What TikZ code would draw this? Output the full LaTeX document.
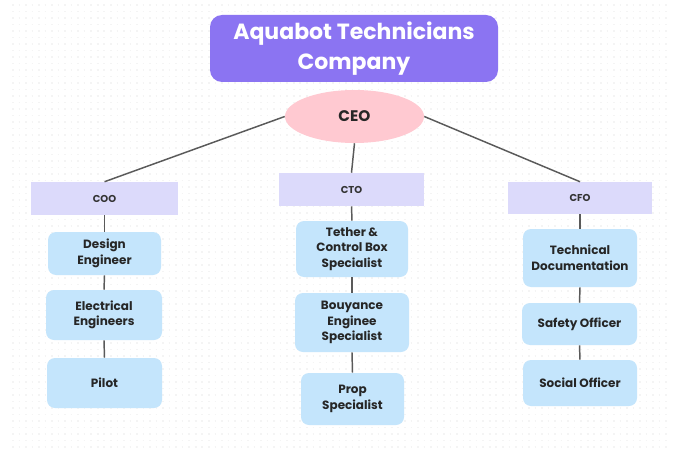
\documentclass[tikz,border=0pt]{standalone}
\usepackage{fontspec}
\setmainfont{Poppins}
\usetikzlibrary{shapes.geometric}
\definecolor{titlebg}{HTML}{8B74F2}
\definecolor{ceobg}{HTML}{FFC9D1}
\definecolor{headbg}{HTML}{DCDAFB}
\definecolor{rolebg}{HTML}{C4E5FC}
\definecolor{linkgray}{HTML}{5A5A5A}
\definecolor{dotgray}{HTML}{F4F4F4}
\begin{document}
\begin{tikzpicture}[x=0.75pt,y=-0.75pt,
  title/.style={draw=none,fill=titlebg,rounded corners=9pt,text=white,
    font=\fontsize{16.5}{22.5}\selectfont\bfseries,align=center,inner sep=0pt},
  ceo/.style={ellipse,fill=ceobg,font=\fontsize{11.5}{14}\selectfont\bfseries,
    text=black!85,inner sep=0pt},
  head/.style={fill=headbg,font=\fontsize{7.5}{9}\selectfont\bfseries,
    text=black!80,inner sep=0pt},
  role/.style={fill=rolebg,rounded corners=6pt,align=center,
    font=\fontsize{9}{11.7}\selectfont\bfseries,text=black!85,inner sep=0pt},
  link/.style={draw=linkgray,line width=1.1pt}]
\useasboundingbox (0,0) rectangle (678,460);
\fill[white] (0,0) rectangle (678,460);
% faint dot grid of the canvas
\foreach \r in {0,...,68}{
  \draw[dotgray,line width=1.2pt,dash pattern=on 1.2pt off 3.7pt]
    (12,{5+6.5*\r}) -- (668,{5+6.5*\r});
}
% top of the chart
\node[title,minimum width=216pt,minimum height=50.25pt] (company) at (354,48.5)
  {Aquabot Technicians\\Company};
\node[ceo,minimum width=104.25pt,minimum height=39.75pt] (ceo) at (354.5,116.5) {CEO};
% officers
\node[head,minimum width=110.25pt,minimum height=24.75pt] (coo) at (104.5,198.5) {COO};
\node[head,minimum width=108.75pt,minimum height=24.75pt] (cto) at (351.5,189.5) {CTO};
\node[head,minimum width=108pt,minimum height=24pt] (cfo) at (580,198) {CFO};
% COO team
\node[role,minimum width=84.75pt,minimum height=32.25pt] (design) at (104.5,253.5) {Design\\Engineer};
\node[role,minimum width=87pt,minimum height=37.5pt] (elec) at (104,315) {Electrical\\Engineers};
\node[role,minimum width=86.25pt,minimum height=37.5pt] (pilot) at (104.5,383) {Pilot};
% CTO team
\node[role,minimum width=84pt,minimum height=42pt] (tether) at (352,249) {Tether \&\\Control Box\\Specialist};
\node[role,minimum width=85.5pt,minimum height=44.25pt] (buoy) at (352,322.5) {Bouyance\\Enginee\\Specialist};
\node[role,minimum width=77.25pt,minimum height=39pt] (prop) at (352.5,399) {Prop\\Specialist};
% CFO team
\node[role,minimum width=85.5pt,minimum height=43.5pt] (techdoc) at (580,258) {Technical\\Documentation};
\node[role,minimum width=86.25pt,minimum height=31.5pt] (safety) at (579.5,324) {Safety Officer};
\node[role,minimum width=85.5pt,minimum height=34.5pt] (social) at (580,383) {Social Officer};
% connectors
\draw[link] (ceo.west) -- (coo.north);
\draw[link] (ceo.east) -- (cfo.north);
\draw[link] (ceo.south) -- (cto.north);
\draw[link] (coo.south) -- (design.north);
\draw[link] (design.south) -- (elec.north);
\draw[link] (elec.south) -- (pilot.north);
\draw[link] (cto.south) -- (tether.north);
\draw[link] (tether.south) -- (buoy.north);
\draw[link] (buoy.south) -- (prop.north);
\draw[link] (cfo.south) -- (techdoc.north);
\draw[link] (techdoc.south) -- (safety.north);
\draw[link] (safety.south) -- (social.north);
\end{tikzpicture}
\end{document}
